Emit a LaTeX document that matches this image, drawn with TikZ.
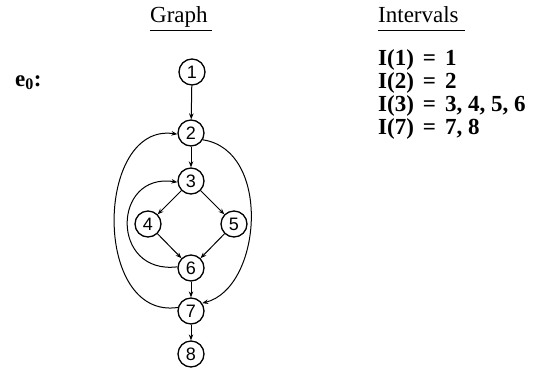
\documentclass[tikz,border=0pt]{standalone}
\usepackage{fontspec}
\setmainfont{Liberation Serif}
\newfontfamily\nodefont{Liberation Sans}
\usetikzlibrary{arrows.meta}
\begin{document}
\begin{tikzpicture}[x=1pt,y=-1pt,
  vtx/.style={circle,draw,line width=1.3pt,minimum size=26pt,inner sep=0pt,font=\nodefont\fontsize{18}{18}\selectfont},
  edge/.style={line width=1pt,-{Stealth[length=6pt,width=4.5pt]}},
  title/.style={font=\fontsize{23}{23}\selectfont,anchor=base west,inner sep=0pt},
  txt/.style={font=\bfseries\fontsize{23}{23}\selectfont,anchor=base west,inner sep=0pt}]
\useasboundingbox (0,0) rectangle (540,370);
% titles
\node[title] (tg) at (150,22) {Graph};
\node[title] (ti) at (378,22) {Intervals};
\draw[line width=0.8pt] (150,30) coordinate (ug1) -- (212,30) coordinate (ug2);
\draw[line width=0.8pt] (378,30) coordinate (ui1) -- (465,30) coordinate (ui2);
% label
\node[txt] (e0) at (15,86) {e\textsubscript{0}:};
% intervals
\newcommand\eqsep{\hspace{9pt}=\hspace{9pt}}
\node[txt] (i1) at (378,65) {I(1)\eqsep 1};
\node[txt] (i2) at (378,88) {I(2)\eqsep 2};
\node[txt] (i3) at (378,111) {I(3)\eqsep 3, 4, 5, 6};
\node[txt] (i7) at (378,134) {I(7)\eqsep 7, 8};
% graph nodes
\node[vtx] (n1) at (192,72) {1};
\node[vtx] (n2) at (191,133) {2};
\node[vtx] (n3) at (191,181) {3};
\node[vtx] (n4) at (148,224) {4};
\node[vtx] (n5) at (234,224) {5};
\node[vtx] (n6) at (191,268) {6};
\node[vtx] (n7) at (191,311) {7};
\node[vtx] (n8) at (191,354) {8};
% straight edges
\draw[edge] (n1) -- (n2);
\draw[edge] (n2) -- (n3);
\draw[edge] (n3) -- (n4);
\draw[edge] (n3) -- (n5);
\draw[edge] (n4) -- (n6);
\draw[edge] (n5) -- (n6);
\draw[edge] (n6) -- (n7);
\draw[edge] (n7) -- (n8);
% back edges
\draw[edge] (n6.175) .. controls (110,275) and (112,172) .. (n3.185);
\draw[edge] (n7.165) .. controls (92,320) and (95,122) .. (n2.185);
\draw[edge] (n2.-30) .. controls (272,150) and (262,288) .. (n7.35);
\end{tikzpicture}
\end{document}
